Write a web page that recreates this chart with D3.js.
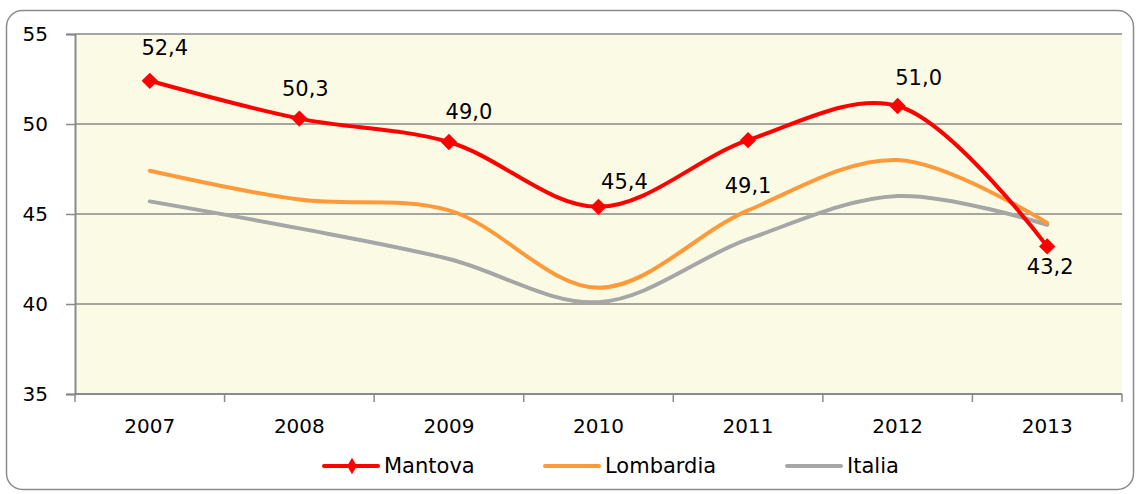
<!DOCTYPE html>
<html>
<head>
<meta charset="utf-8">
<script src="https://cdn.jsdelivr.net/npm/d3@7"></script>
<style>
  body { margin: 0; background: #fff; }
  text { font-family: "DejaVu Sans", sans-serif; fill: #000; }
</style>
</head>
<body>
<div class="chart"></div>
<script>
var years = ["2007", "2008", "2009", "2010", "2011", "2012", "2013"];
var mantova = [52.4, 50.3, 49.0, 45.4, 49.1, 51.0, 43.2];
var lombardia = [47.4, 45.8, 45.2, 40.9, 45.2, 48.0, 44.5];
var italia = [45.7, 44.2, 42.5, 40.1, 43.6, 46.0, 44.4];
var yTicks = [35, 40, 45, 50, 55];
// nudge of each Mantova value label from its point (dx, dy)
var labelNudge = [[15, -33], [6, -30], [20, -30], [26, -25], [0, 45], [21, -28], [3, 20]];

var svgWidth = 1139;
var svgHeight = 494;

var margin = { top: 34, right: 17, bottom: 100, left: 75 };
var width = svgWidth - margin.left - margin.right;
var height = svgHeight - margin.top - margin.bottom;

var svg = d3.select(".chart")
    .append("svg")
    .attr("width", svgWidth)
    .attr("height", svgHeight);

// outer rounded frame
svg.append("rect")
    .attr("x", 6.5).attr("y", 10.5)
    .attr("width", 1127).attr("height", 479)
    .attr("rx", 16)
    .attr("fill", "none")
    .attr("stroke", "#8c8c8c")
    .attr("stroke-width", 1.5);

var chartGroup = svg.append("g")
    .attr("transform", `translate(${margin.left}, ${margin.top})`);

var xBand = d3.scaleBand().domain(years).range([0, width]);
var x = d => xBand(d) + xBand.bandwidth() / 2;
var y = d3.scaleLinear().domain([35, 55]).range([height, 0]);

// plot background
chartGroup.append("rect")
    .attr("width", width).attr("height", height)
    .attr("fill", "#fbfbe5");

// gridlines
chartGroup.selectAll(".grid")
    .data(yTicks.slice(1))
    .enter()
    .append("line")
    .attr("x1", 0).attr("x2", width)
    .attr("y1", d => y(d)).attr("y2", d => y(d))
    .attr("stroke", "#8a8a8a")
    .attr("stroke-width", 1.5);

// y axis
var leftAxis = d3.axisLeft(y).tickValues(yTicks).tickSize(9).tickPadding(18);
var yAxis = chartGroup.append("g").call(leftAxis);
yAxis.select(".domain").attr("stroke", "#8a8a8a").attr("stroke-width", 2);
yAxis.selectAll(".tick line").attr("stroke", "#8a8a8a").attr("stroke-width", 1.5);
yAxis.selectAll("text")
    .attr("font-size", "20px")
    .style("font-family", "'DejaVu Sans', sans-serif")
    .attr("fill", "#000");

// x axis: ticks on category boundaries
var xAxis = chartGroup.append("g").attr("transform", `translate(0, ${height})`);
xAxis.append("line")
    .attr("x1", 0).attr("x2", width)
    .attr("stroke", "#8a8a8a").attr("stroke-width", 2);
xAxis.selectAll(".xtick")
    .data(d3.range(years.length + 1))
    .enter()
    .append("line")
    .attr("x1", i => i * xBand.step()).attr("x2", i => i * xBand.step())
    .attr("y1", 0).attr("y2", 8)
    .attr("stroke", "#8a8a8a").attr("stroke-width", 1.5);
xAxis.selectAll(".xlabel")
    .data(years)
    .enter()
    .append("text")
    .attr("x", d => x(d))
    .attr("y", 39)
    .attr("text-anchor", "middle")
    .attr("font-size", "20px")
    .text(d => d);

var line = d3.line()
    .x((d, i) => x(years[i]))
    .y(d => y(d))
    .curve(d3.curveCatmullRom.alpha(0.5));

var series = [
    { name: "Italia", values: italia, color: "#a6a6a6" },
    { name: "Lombardia", values: lombardia, color: "#ff9a3b" },
    { name: "Mantova", values: mantova, color: "#ff0000" }
];

chartGroup.selectAll(".series")
    .data(series)
    .enter()
    .append("path")
    .attr("d", d => line(d.values))
    .attr("fill", "none")
    .attr("stroke", d => d.color)
    .attr("stroke-width", 4)
    .attr("stroke-linecap", "round");

chartGroup.selectAll(".marker")
    .data(mantova)
    .enter()
    .append("path")
    .attr("d", d3.symbol().type(d3.symbolDiamond2).size(170))
    .attr("transform", (d, i) => `translate(${x(years[i])}, ${y(d)})`)
    .attr("fill", "#ff0000");

chartGroup.selectAll(".vlabel")
    .data(mantova)
    .enter()
    .append("text")
    .attr("x", (d, i) => x(years[i]) + labelNudge[i][0])
    .attr("y", (d, i) => y(d) + labelNudge[i][1])
    .attr("dy", "0.35em")
    .attr("text-anchor", "middle")
    .attr("font-size", "21px")
    .text(d => d.toFixed(1).replace(".", ","));

// legend
var legend = svg.append("g").attr("transform", "translate(0, 466)");
var legendItems = [
    { name: "Mantova", color: "#ff0000", x: 324, marker: true },
    { name: "Lombardia", color: "#ff9a3b", x: 545, marker: false },
    { name: "Italia", color: "#a6a6a6", x: 787, marker: false }
];
legendItems.forEach(function (it) {
    legend.append("line")
        .attr("x1", it.x).attr("x2", it.x + 54)
        .attr("stroke", it.color).attr("stroke-width", 4)
        .attr("stroke-linecap", "round");
    if (it.marker) {
        legend.append("path")
            .attr("d", d3.symbol().type(d3.symbolDiamond).size(80))
            .attr("transform", `translate(${it.x + 28}, 0)`)
            .attr("fill", it.color);
    }
    legend.append("text")
        .attr("x", it.x + 60)
        .attr("dy", "0.35em")
        .attr("font-size", "21px")
        .text(it.name);
});
</script>
</body>
</html>
